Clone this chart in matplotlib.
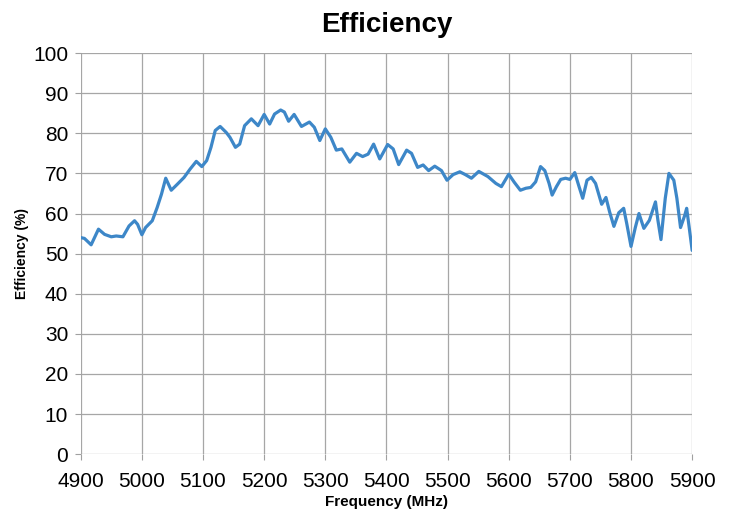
import numpy as np
import matplotlib
matplotlib.use("Agg")
import matplotlib.pyplot as plt

# frequency (MHz) and efficiency (%)
freq = [4900, 4906, 4917, 4929, 4939, 4950, 4958, 4969, 4979, 4988, 4993, 5000,
        5006, 5017, 5025, 5032, 5039, 5048, 5058, 5069, 5079, 5089, 5098, 5106,
        5113, 5120, 5128, 5138, 5144, 5153, 5160, 5168, 5179, 5190, 5200, 5209,
        5217, 5227, 5233, 5240, 5249, 5261, 5274, 5282, 5291, 5300, 5309, 5318,
        5327, 5340, 5351, 5361, 5370, 5379, 5389, 5402, 5411, 5420, 5433, 5441,
        5451, 5460, 5469, 5479, 5490, 5499, 5509, 5520, 5529, 5539, 5551, 5566,
        5579, 5588, 5600, 5609, 5619, 5628, 5636, 5644, 5652, 5659, 5666, 5671,
        5678, 5685, 5693, 5700, 5708, 5715, 5721, 5728, 5735, 5742, 5752, 5759,
        5765, 5772, 5780, 5788, 5793, 5800, 5807, 5813, 5821, 5830, 5840, 5844,
        5849, 5856, 5862, 5870, 5875, 5881, 5888, 5891, 5895, 5900]
eff = [54.0, 53.8, 52.2, 56.1, 54.8, 54.2, 54.4, 54.2, 56.9, 58.2, 57.3, 54.7,
       56.5, 58.2, 61.5, 64.8, 68.8, 65.8, 67.3, 69.0, 71.1, 73.0, 71.7, 73.2,
       76.5, 80.7, 81.7, 80.2, 79.0, 76.5, 77.3, 81.9, 83.6, 81.9, 84.7, 82.3,
       84.8, 85.8, 85.3, 83.0, 84.7, 81.7, 82.8, 81.5, 78.2, 81.1, 79.0, 75.8,
       76.1, 72.8, 75.0, 74.2, 74.8, 77.3, 73.6, 77.2, 76.1, 72.2, 75.8, 75.0,
       71.5, 72.1, 70.7, 71.8, 70.7, 68.3, 69.7, 70.4, 69.7, 68.8, 70.5, 69.2,
       67.5, 66.7, 69.8, 67.8, 65.8, 66.3, 66.5, 67.9, 71.7, 70.7, 67.5, 64.6,
       66.7, 68.5, 68.8, 68.5, 70.2, 66.7, 63.8, 68.3, 69.0, 67.5, 62.3, 64.0,
       60.4, 56.8, 60.2, 61.3, 57.5, 51.8, 56.5, 60.0, 56.3, 58.3, 62.9, 58.3,
       53.5, 63.8, 70.0, 68.3, 63.8, 56.5, 59.6, 61.3, 56.7, 50.8]

xticks = list(range(4900, 5901, 100))
yticks = list(range(0, 101, 10))

plt.rcParams['font.family'] = ['Liberation Sans', 'DejaVu Sans']

fig = plt.figure(figsize=(7.34, 5.15), dpi=100)
ax = fig.add_axes([0.110, 0.118, 0.833, 0.779])

ax.plot(freq, eff, color='#3d87c8', lw=2.3, solid_joinstyle='round',
        solid_capstyle='round', zorder=3)

ax.set_xlim(4900, 5900)
ax.set_ylim(0, 100)
ax.set_xticks(xticks)
ax.set_yticks(yticks)
ax.tick_params(labelsize=15, length=4, color='#a0a0a0')
ax.tick_params(axis='x', pad=9)
ax.tick_params(axis='y', pad=5)
ax.grid(True, color='#a6a6a6', lw=0.9)
for s in ax.spines.values():
    s.set_visible(False)

ax.set_title('Efficiency', fontsize=20, fontweight='bold', pad=15)
ax.set_xlabel('Frequency (MHz)', fontsize=11, fontweight='bold', labelpad=3)
ax.set_ylabel('Efficiency (%)', fontsize=10, fontweight='bold', labelpad=3)

fig.savefig('out.png', dpi=100)
